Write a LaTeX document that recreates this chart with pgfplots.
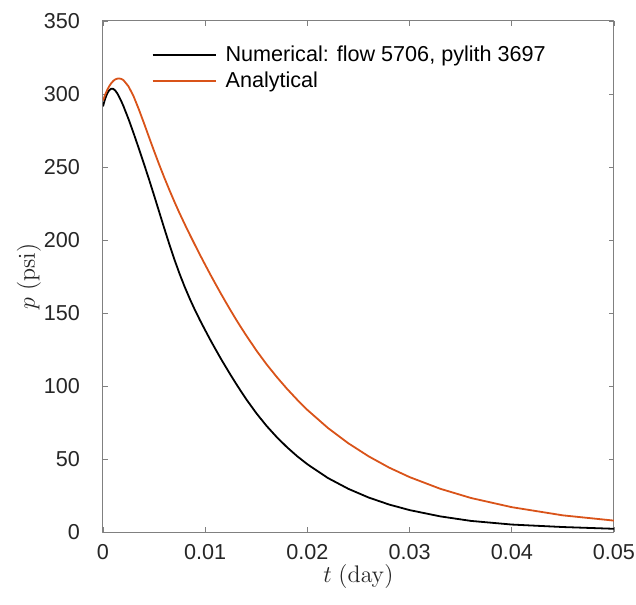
\documentclass[border=0pt]{standalone}
\usepackage{pgfplots}
\pgfplotsset{compat=1.18}
\usepackage[no-math]{fontspec}
\setmainfont{Liberation Sans}
\definecolor{mlorange}{rgb}{0.85,0.325,0.098}
\definecolor{axgray}{gray}{0.5}
\definecolor{txt}{gray}{0.15}
\begin{document}
\begin{tikzpicture}
\begin{axis}[
  width=255.5pt, height=255.5pt, scale only axis,
  xmin=0, xmax=0.05, ymin=0, ymax=350,
  xtick={0,0.01,0.02,0.03,0.04,0.05},
  ytick={0,50,100,150,200,250,300,350},
  scaled x ticks=false,
  xticklabel style={/pgf/number format/fixed, /pgf/number format/precision=2, yshift=-2.5pt},
  yticklabel style={xshift=-8pt},
  /pgf/number format/assume math mode=true,
  tick label style={font=\fontsize{10.8}{13}\selectfont, text=txt},
  tick align=inside, tick pos=both,
  major tick length=2.5pt,
  every tick/.style={axgray, line width=0.4pt},
  axis line style={axgray, line width=0.5pt},
  xlabel={$t$ $(\mathrm{day})$},
  ylabel={$p$ $(\mathrm{psi})$},
  xlabel style={at={(axis description cs:0.5,-0.088)}, anchor=center},
  ylabel style={at={(axis description cs:-0.145,0.5)}, anchor=center},
  label style={font=\fontsize{12}{14}\selectfont, text=txt},
  legend cell align=left,
  legend style={at={(rel axis cs:0.083,0.968)}, anchor=north west,
    draw=none, fill=none, font=\fontsize{10.8}{13}\selectfont,
    row sep=-0.3pt},
  legend image code/.code={\draw[#1] (0pt,0pt) -- (31.5pt,0pt); \path (34pt,0pt);},
  line join=round,
]
% Numerical: flow 5706, pylith 3697
\addplot[black, line width=0.9pt] coordinates {
(0,291.5)(0.0002,296.5)(0.0004,300.2)(0.0006,302.5)(0.0008,303.6)(0.001,303.5)
(0.0012,302.4)(0.0014,300.4)(0.0016,297.8)(0.0018,294.9)(0.002,291.7)
(0.0025,282.8)(0.003,273)(0.0035,262.8)(0.004,252.3)(0.0045,241.6)(0.005,230.5)
(0.0055,219.2)(0.006,207.9)(0.0065,196.9)(0.007,186.4)(0.0075,176.7)(0.008,167.8)
(0.0085,159.6)(0.009,152)(0.0095,144.9)(0.01,138.2)(0.0105,131.6)(0.011,125.3)
(0.0115,119.1)(0.012,113.2)(0.0125,107.4)(0.013,101.8)(0.0135,96.4)(0.014,91.1)
(0.015,81.4)(0.016,72.7)(0.017,65)(0.018,58.1)(0.019,51.9)(0.02,46.4)
(0.022,37)(0.024,29.6)(0.026,23.6)(0.028,18.8)(0.03,15)(0.033,10.7)
(0.036,7.6)(0.04,5.1)(0.045,3.4)(0.05,2.2)
};
\addlegendentry{Numerical: flow 5706, pylith 3697}
% Analytical
\addplot[mlorange, line width=0.9pt] coordinates {
(0,295.5)(0.0002,299.3)(0.0004,302.6)(0.0006,305.2)(0.0008,307.3)(0.001,308.9)
(0.0012,310)(0.0014,310.5)(0.0016,310.6)(0.0018,310.3)(0.002,309.5)
(0.0025,305.2)(0.003,298.3)(0.0035,289.6)(0.004,280.2)(0.0045,270.5)(0.005,260.9)
(0.0055,251.6)(0.006,242.7)(0.0065,234.2)(0.007,226)(0.0075,218.2)(0.008,210.8)
(0.0085,203.6)(0.009,196.6)(0.0095,189.7)(0.01,183)(0.0105,176.4)(0.011,170)
(0.0115,163.7)(0.012,157.6)(0.0125,151.6)(0.013,145.8)(0.0135,140.2)(0.014,134.8)
(0.015,124.4)(0.016,114.9)(0.017,106.2)(0.018,98.1)(0.019,90.6)(0.02,83.6)
(0.022,71.3)(0.024,60.8)(0.026,51.8)(0.028,44.1)(0.03,37.6)(0.033,29.6)
(0.036,23.3)(0.04,17)(0.045,11.4)(0.05,7.8)
};
\addlegendentry{Analytical}
\end{axis}
\pgfresetboundingbox
\path ([xshift=-51.5pt,yshift=-36pt]current axis.south west)
  rectangle ([xshift=11pt,yshift=10.5pt]current axis.north east);
\end{tikzpicture}
\end{document}
